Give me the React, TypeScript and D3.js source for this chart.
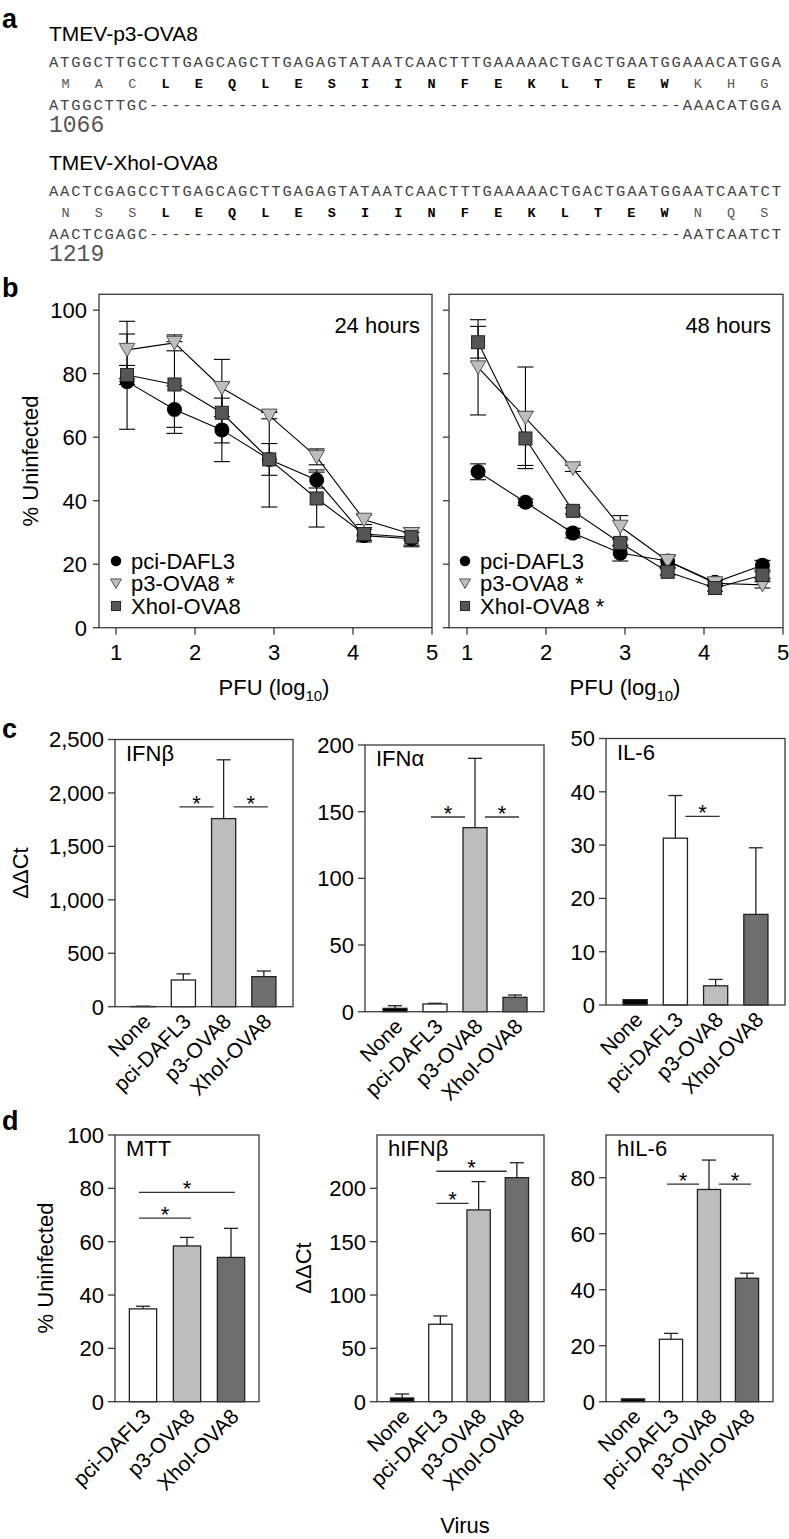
import React from "react";
import * as d3 from "d3";

const SANS = '"Liberation Sans", Arial, Helvetica, sans-serif';
const MONO = '"Liberation Mono", "Courier New", monospace';
const AXIS = "#3a3a3a";

// ---------- Panel a: sequences ----------
const p3Title = "TMEV-p3-OVA8";
const p3Nuc = "ATGGCTTGCCTTGAGCAGCTTGAGAGTATAATCAACTTTGAAAAACTGACTGAATGGAAACATGGA";
const p3AA = ["M", "A", "C", "L", "E", "Q", "L", "E", "S", "I", "I", "N", "F", "E", "K", "L", "T", "E", "W", "K", "H", "G"];
const p3Deleted = "ATGGCTTGC------------------------------------------------AAACATGGA";
const p3Pos = "1066";
const xhoTitle = "TMEV-XhoI-OVA8";
const xhoNuc = "AACTCGAGCCTTGAGCAGCTTGAGAGTATAATCAACTTTGAAAAACTGACTGAATGGAATCAATCT";
const xhoAA = ["N", "S", "S", "L", "E", "Q", "L", "E", "S", "I", "I", "N", "F", "E", "K", "L", "T", "E", "W", "N", "Q", "S"];
const xhoDeleted = "AACTCGAGC------------------------------------------------AATCAATCT";
const xhoPos = "1219";
const ova8First = 3;
const ova8Last = 18;

// ---------- Panel b: survival vs PFU ----------
const pfuLog = [1.14, 1.74, 2.34, 2.94, 3.54, 4.14, 4.74];
const xTicksB = [1, 2, 3, 4, 5];
const yTicksB = [0, 20, 40, 60, 80, 100];

const h24Pci = [77.5, 68.7, 62.3, 53, 46.5, 29, 28];
const h24PciErr = [15, 7.5, 10, 15, 2.5, 2, 2];
const h24P3 = [87.5, 89.7, 75.5, 66.8, 53.8, 34, 29.5];
const h24P3Err = [9, 2.5, 9, 1, 2.5, 1.5, 2];
const h24Xho = [79.6, 76.6, 67.7, 53, 40.7, 29.5, 28.5];
const h24XhoErr = [3, 13.5, 9.5, 5, 9, 2, 3];

const h48Pci = [49.1, 39.5, 29.8, 23.5, 21, 14.3, 19.7];
const h48PciErr = [2.5, 1, 1.5, 2.5, 1.5, 1, 1.5];
const h48P3 = [82, 66.1, 50.2, 31.8, 21, 14, 13.5];
const h48P3Err = [15, 16, 1, 3.5, 2, 1, 1];
const h48Xho = [89.9, 59.6, 36.8, 26.7, 17.6, 12.5, 16.6];
const h48XhoErr = [5, 8.5, 1, 1, 1, 1, 1];

const seriesNames = ["pci-DAFL3", "p3-OVA8", "XhoI-OVA8"];
const stars24 = ["", " *", ""];
const stars48 = ["", " *", " *"];

// ---------- Panels c and d: bars ----------
const cats4 = ["None", "pci-DAFL3", "p3-OVA8", "XhoI-OVA8"];
const cats3 = ["pci-DAFL3", "p3-OVA8", "XhoI-OVA8"];

const ifnbVals = [2, 250, 1760, 281];
const ifnbErrs = [2, 57, 550, 53];
const ifnbTicks = [0, 500, 1000, 1500, 2000, 2500];
const ifnbSig: [string, string, number][] = [["pci-DAFL3", "p3-OVA8", 1870], ["p3-OVA8", "XhoI-OVA8", 1870]];

const ifnaVals = [2.5, 5.8, 138, 10.8];
const ifnaErrs = [2, 0.5, 52, 1.7];
const ifnaTicks = [0, 50, 100, 150, 200];
const ifnaSig: [string, string, number][] = [["pci-DAFL3", "p3-OVA8", 146], ["p3-OVA8", "XhoI-OVA8", 146]];

const il6Vals = [1.0, 31.3, 3.6, 17.0];
const il6Errs = [0, 8, 1.2, 12.5];
const il6Ticks = [0, 10, 20, 30, 40, 50];
const il6Sig: [string, string, number][] = [["pci-DAFL3", "p3-OVA8", 35.4]];

const mttVals = [34.8, 58.4, 54.1];
const mttErrs = [1, 3.2, 10.9];
const mttTicks = [0, 20, 40, 60, 80, 100];
const mttSig: [string, string, number][] = [["pci-DAFL3", "XhoI-OVA8", 78.5], ["pci-DAFL3", "p3-OVA8", 68.8]];

const hifnbVals = [3.5, 72.6, 179.8, 210];
const hifnbErrs = [3.7, 7.8, 26.5, 14];
const hifnbTicks = [0, 50, 100, 150, 200];
const hifnbSig: [string, string, number][] = [["pci-DAFL3", "XhoI-OVA8", 216], ["pci-DAFL3", "p3-OVA8", 186]];

const hil6Vals = [1.0, 22.3, 75.8, 44.1];
const hil6Errs = [0, 2.1, 10.5, 1.8];
const hil6Ticks = [0, 20, 40, 60, 80];
const hil6Sig: [string, string, number][] = [["pci-DAFL3", "p3-OVA8", 77.7], ["p3-OVA8", "XhoI-OVA8", 77.7]];

const barFill: Record<string, string> = {
  "None": "#000000",
  "pci-DAFL3": "#ffffff",
  "p3-OVA8": "#bdbdbd",
  "XhoI-OVA8": "#6e6e6e",
};

// ---------- Components ----------
function SeqBlock({ y0, title, nuc, aa, del, pos }: any) {
  const cx = d3.scaleLinear().domain([0, 66]).range([49, 781]);
  return (
    <g>
      <text x={49} y={y0} fontSize={21} fontFamily={SANS} fill="#000">{title}</text>
      <text x={49} y={y0 + 26} fontSize={15.5} fontFamily={MONO} fill="#444" textLength={732} lengthAdjust="spacing">{nuc}</text>
      {aa.map((a: string, i: number) => {
        const bold = i >= ova8First && i <= ova8Last;
        return (
          <text key={i} x={cx(3 * i + 1.5)} y={y0 + 47} fontSize={13.5} fontFamily={MONO}
            textAnchor="middle" fontWeight={bold ? "bold" : "normal"} fill={bold ? "#000" : "#555"}>{a}</text>
        );
      })}
      <text x={49} y={y0 + 69} fontSize={15.5} fontFamily={MONO} fill="#444" textLength={732} lengthAdjust="spacing">{del}</text>
      <text x={49} y={y0 + 91} fontSize={23} fontFamily={MONO} fill="#555">{pos}</text>
    </g>
  );
}

function Marker({ kind, x, y, s = 1 }: any) {
  if (kind === 0) return <circle cx={x} cy={y} r={7.5 * s} fill="#000" />;
  if (kind === 1)
    return <path d={`M${x - 7.8 * s},${y - 6.5 * s}L${x + 7.8 * s},${y - 6.5 * s}L${x},${y + 7 * s}Z`} fill="#bdbdbd" stroke="#555" strokeWidth={1} />;
  return <rect x={x - 6.5 * s} y={y - 6.5 * s} width={13 * s} height={13 * s} fill="#555" stroke="#222" strokeWidth={1} />;
}

const yB = d3.scaleLinear().domain([0, 105]).range([627.7, 294.3]);

function LineChart({ left, right, x1, x5, hours, showY, series, stars, legendX }: any) {
  const x = d3.scaleLinear().domain([1, 5]).range([x1, x5]);
  const line = d3.line<number>().x((_, i) => x(pfuLog[i])).y((d) => yB(d));
  const top = yB(105);
  const bottom = yB(0);
  return (
    <g>
      <rect x={left} y={top} width={right - left} height={bottom - top} fill="none" stroke={AXIS} strokeWidth={1.3} />
      {yTicksB.map((t) => (
        <g key={t}>
          <line x1={left - 6} x2={left} y1={yB(t)} y2={yB(t)} stroke={AXIS} strokeWidth={1.3} />
          {showY && (
            <text x={left - 12} y={yB(t)} dy="0.36em" textAnchor="end" fontSize={22}>{t}</text>
          )}
        </g>
      ))}
      {xTicksB.map((t) => (
        <g key={t}>
          <line x1={x(t)} x2={x(t)} y1={bottom} y2={bottom + 7} stroke={AXIS} strokeWidth={1.3} />
          <text x={x(t)} y={660} textAnchor="middle" fontSize={22}>{t}</text>
        </g>
      ))}
      <text x={(x1 + x5) / 2} y={695} textAnchor="middle" fontSize={22}>
        PFU (log<tspan fontSize={15} dy={6}>10</tspan><tspan dy={-6}>)</tspan>
      </text>
      <text x={right - 12} y={333} textAnchor="end" fontSize={22}>{hours}</text>
      {series.map((s: any, k: number) => (
        <path key={"l" + k} d={line(s.vals) || ""} fill="none" stroke="#000" strokeWidth={1.1} />
      ))}
      {series.map((s: any, k: number) =>
        s.vals.map((v: number, i: number) => {
          const e = s.errs[i];
          const xx = x(pfuLog[i]);
          return (
            <g key={"e" + k + "-" + i} stroke="#000" strokeWidth={1.1}>
              <line x1={xx} x2={xx} y1={yB(v - e)} y2={yB(v + e)} />
              <line x1={xx - 8} x2={xx + 8} y1={yB(v + e)} y2={yB(v + e)} />
              <line x1={xx - 8} x2={xx + 8} y1={yB(v - e)} y2={yB(v - e)} />
            </g>
          );
        })
      )}
      {series.map((s: any, k: number) =>
        s.vals.map((v: number, i: number) => <Marker key={"m" + k + "-" + i} kind={k} x={x(pfuLog[i])} y={yB(v)} />)
      )}
      {seriesNames.map((n, k) => (
        <g key={"lg" + k}>
          <Marker kind={k} x={legendX} y={561 + k * 22.5} s={0.7} />
          <text x={legendX + 15} y={561 + k * 22.5} dy="0.36em" fontSize={22}>{n + stars[k]}</text>
        </g>
      ))}
    </g>
  );
}

function BarChart({ frame, max, ticks, fmt, cats, vals, errs, sig, title, band, pad }: any) {
  const [l, r, t, b] = frame;
  const y = d3.scaleLinear().domain([0, max]).range([b, t]);
  const x = d3.scaleBand<string>().domain(cats).range(band).paddingInner(pad).paddingOuter(pad / 2);
  const bw = x.bandwidth();
  const center = (c: string) => (x(c) as number) + bw / 2;
  const endX = (c: string, side: number, v: number) => {
    const i = cats.indexOf(c);
    const crosses = vals[i] + errs[i] > v;
    return crosses ? center(c) + side * 10 : center(c) - side * 4;
  };
  return (
    <g>
      {cats.map((c: string, i: number) => {
        const v = vals[i];
        const e = errs[i];
        const cx = center(c);
        return (
          <g key={c}>
            {e > 0 && (
              <g stroke="#222" strokeWidth={1.3}>
                <line x1={cx} x2={cx} y1={y(v)} y2={y(v + e)} />
                <line x1={cx - 7} x2={cx + 7} y1={y(v + e)} y2={y(v + e)} />
              </g>
            )}
            <rect x={x(c)} y={y(v)} width={bw} height={y(0) - y(v)} fill={barFill[c]} stroke="#222" strokeWidth={1.3} />
            <text transform={`translate(${cx + 9},${b + 16}) rotate(-45)`} textAnchor="end" fontSize={21}>{c}</text>
          </g>
        );
      })}
      <rect x={l} y={t} width={r - l} height={b - t} fill="none" stroke={AXIS} strokeWidth={1.3} />
      {ticks.map((tk: number) => (
        <g key={tk}>
          <line x1={l - 7} x2={l} y1={y(tk)} y2={y(tk)} stroke={AXIS} strokeWidth={1.3} />
          <text x={l - 11} y={y(tk)} dy="0.36em" textAnchor="end" fontSize={22}>{fmt(tk)}</text>
        </g>
      ))}
      {sig.map(([a, c2, v]: [string, string, number], k: number) => {
        const xa = endX(a, 1, v);
        const xb = endX(c2, -1, v);
        return (
          <g key={"s" + k}>
            <line x1={xa} x2={xb} y1={y(v)} y2={y(v)} stroke="#333" strokeWidth={1.3} />
            <text x={(xa + xb) / 2} y={y(v) + 4} textAnchor="middle" fontSize={22}>*</text>
          </g>
        );
      })}
      <text x={l + 11} y={t + 21} fontSize={22}>{title}</text>
    </g>
  );
}

const plain = d3.format("d");
const comma = d3.format(",");

export default function App() {
  const s24 = [
    { vals: h24Pci, errs: h24PciErr },
    { vals: h24P3, errs: h24P3Err },
    { vals: h24Xho, errs: h24XhoErr },
  ];
  const s48 = [
    { vals: h48Pci, errs: h48PciErr },
    { vals: h48P3, errs: h48P3Err },
    { vals: h48Xho, errs: h48XhoErr },
  ];
  return (
    <svg width={789} height={1539} style={{ position: "absolute", left: 0, top: 0 }} fontFamily={SANS}>
      <rect width={789} height={1539} fill="#fff" />
      {/* panel labels */}
      <text x={2} y={28} fontSize={27} fontWeight="bold">a</text>
      <text x={2} y={297} fontSize={27} fontWeight="bold">b</text>
      <text x={2} y={738} fontSize={27} fontWeight="bold">c</text>
      <text x={2} y={1130} fontSize={27} fontWeight="bold">d</text>

      {/* panel a */}
      <SeqBlock y0={41} title={p3Title} nuc={p3Nuc} aa={p3AA} del={p3Deleted} pos={p3Pos} />
      <SeqBlock y0={170} title={xhoTitle} nuc={xhoNuc} aa={xhoAA} del={xhoDeleted} pos={xhoPos} />

      {/* panel b */}
      <text transform="translate(30,461) rotate(-90)" textAnchor="middle" dy="0.36em" fontSize={22}>% Uninfected</text>
      <LineChart left={99} right={432} x1={116} x5={432} hours="24 hours" showY={true} series={s24} stars={stars24} legendX={116} />
      <LineChart left={449} right={783} x1={467} x5={783} hours="48 hours" showY={false} series={s48} stars={stars48} legendX={465} />

      {/* panel c */}
      <text transform="translate(20,873) rotate(-90)" textAnchor="middle" dy="0.36em" fontSize={22}>ΔΔCt</text>
      <BarChart frame={[115, 293, 739.5, 1006.7]} max={2500} ticks={ifnbTicks} fmt={comma} cats={cats4} vals={ifnbVals} errs={ifnbErrs} sig={ifnbSig} title="IFNβ" band={[123, 284]} pad={0.4} />
      <BarChart frame={[365, 544, 745, 1011.7]} max={200} ticks={ifnaTicks} fmt={plain} cats={cats4} vals={ifnaVals} errs={ifnaErrs} sig={ifnaSig} title="IFNα" band={[375, 535]} pad={0.4} />
      <BarChart frame={[606, 785, 738.5, 1005]} max={50} ticks={il6Ticks} fmt={plain} cats={cats4} vals={il6Vals} errs={il6Errs} sig={il6Sig} title="IL-6" band={[615, 776]} pad={0.4} />

      {/* panel d */}
      <text transform="translate(45,1268) rotate(-90)" textAnchor="middle" dy="0.36em" fontSize={22}>% Uninfected</text>
      <text transform="translate(303,1268) rotate(-90)" textAnchor="middle" dy="0.36em" fontSize={22}>ΔΔCt</text>
      <BarChart frame={[115, 259, 1135, 1401.7]} max={100} ticks={mttTicks} fmt={plain} cats={cats3} vals={mttVals} errs={mttErrs} sig={mttSig} title="MTT" band={[121, 253]} pad={0.38} />
      <BarChart frame={[377, 544, 1135, 1401.7]} max={250} ticks={hifnbTicks} fmt={plain} cats={cats4} vals={hifnbVals} errs={hifnbErrs} sig={hifnbSig} title="hIFNβ" band={[383, 536]} pad={0.39} />
      <BarChart frame={[606, 773, 1135, 1401.7]} max={95.25} ticks={hil6Ticks} fmt={plain} cats={cats4} vals={hil6Vals} errs={hil6Errs} sig={hil6Sig} title="hIL-6" band={[614, 766]} pad={0.39} />
      <text x={465} y={1533} textAnchor="middle" fontSize={22}>Virus</text>
    </svg>
  );
}
